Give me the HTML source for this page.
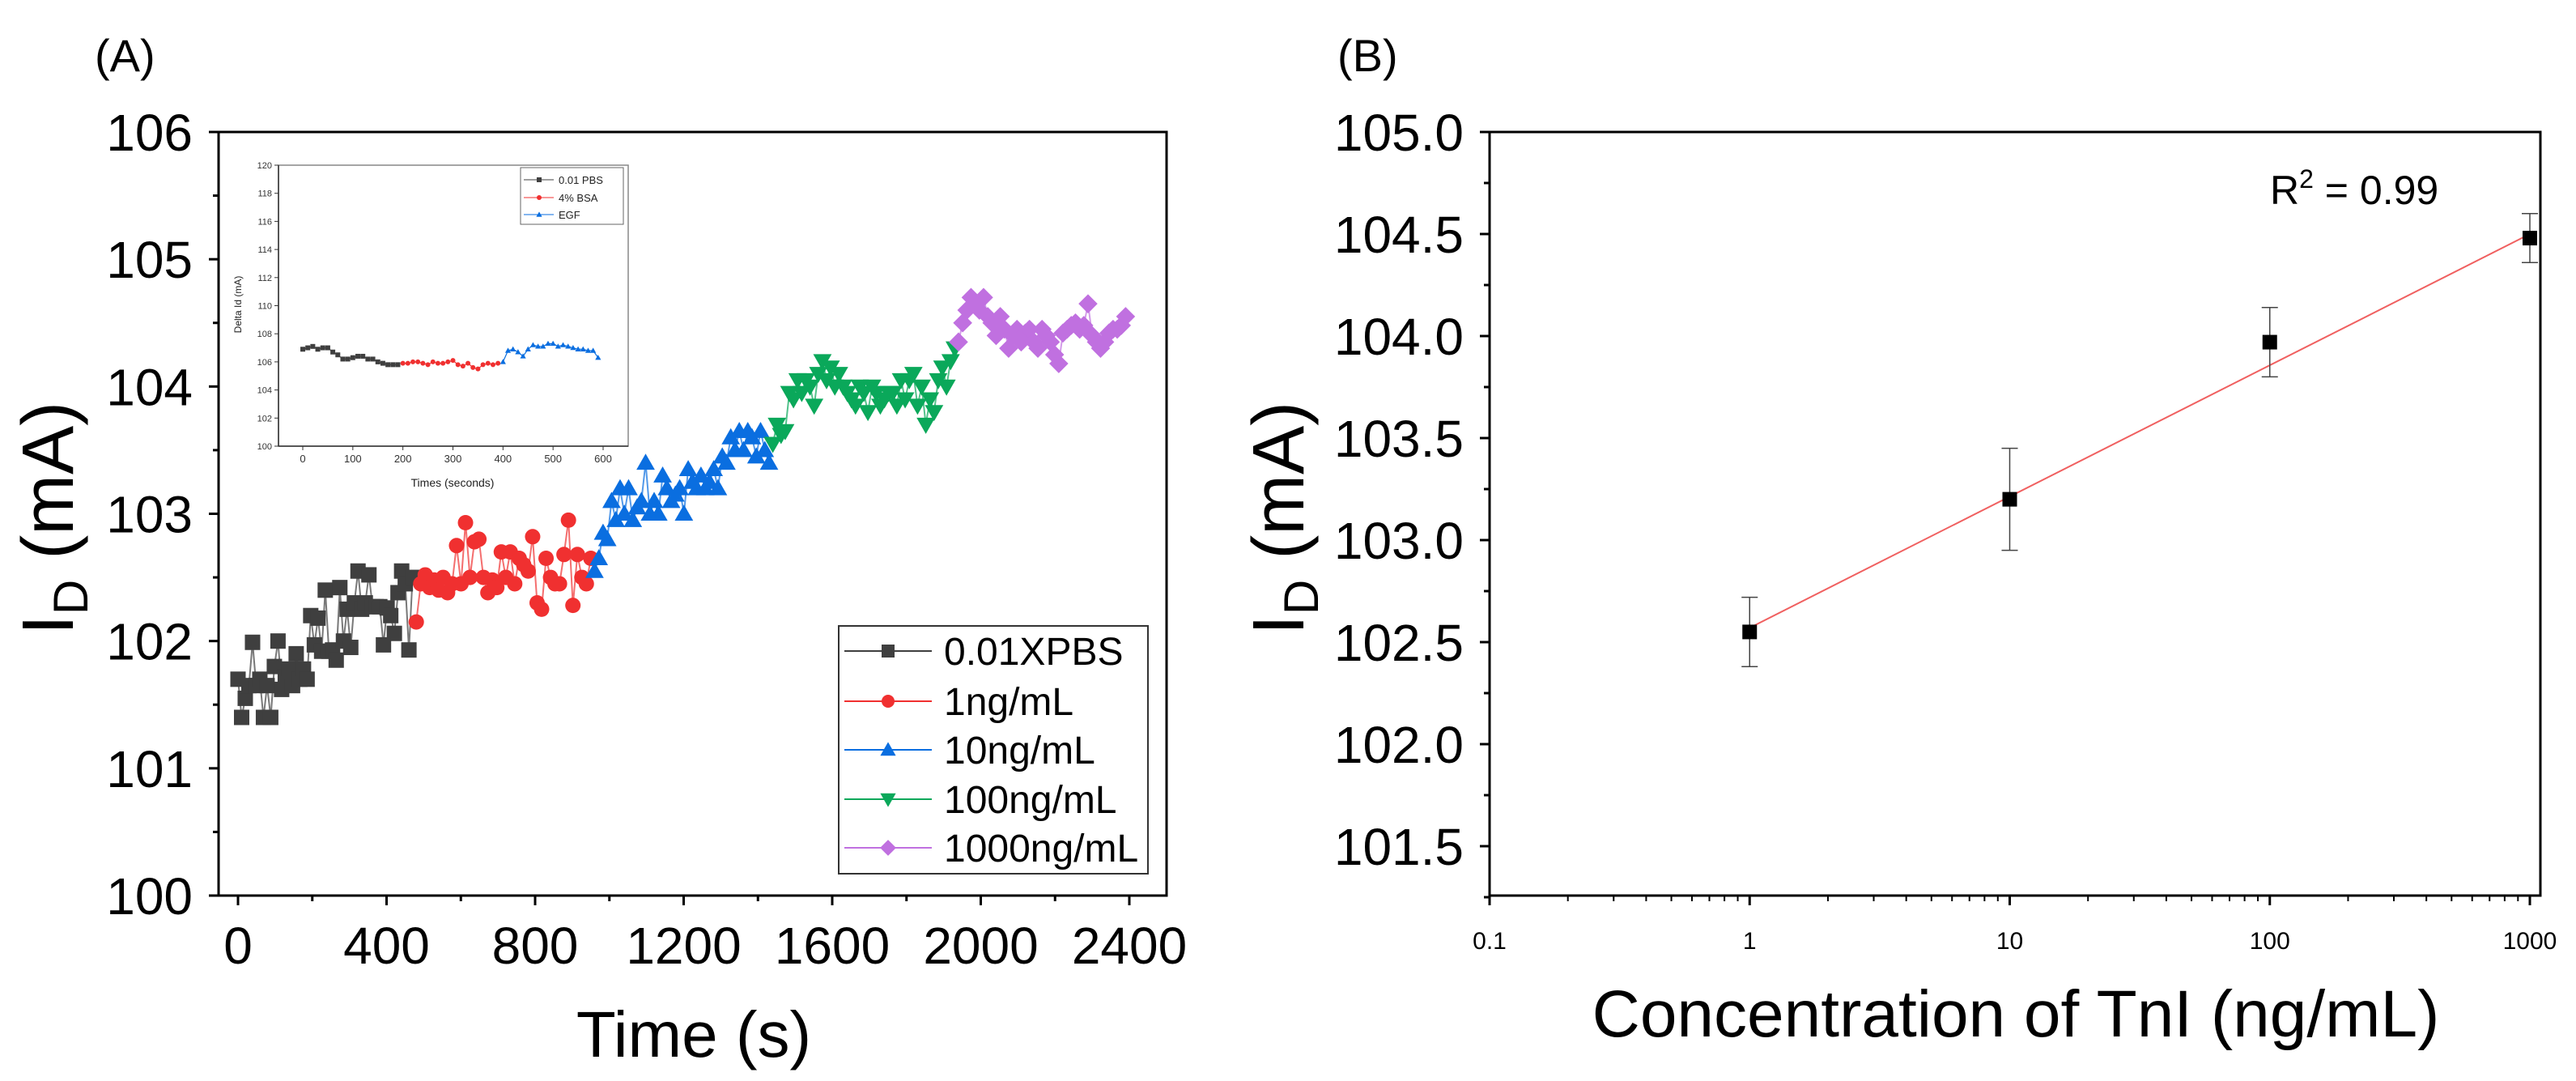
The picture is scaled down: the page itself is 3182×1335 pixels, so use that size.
<!DOCTYPE html>
<html><head><meta charset="utf-8">
<style>
html,body{margin:0;padding:0;background:#fff;}
svg{display:block;font-family:"Liberation Sans",Arial,sans-serif;}
</style></head>
<body>
<svg id="chart" width="3182" height="1335" viewBox="0 0 3182 1335" xmlns="http://www.w3.org/2000/svg">
<rect width="3182" height="1335" fill="#fff"/>
<g id="panelA"></g>
<g id="inset"></g>
<g id="panelB"></g>
</svg>
<script>
// ---------- Panel A data ----------
const seriesNames = ["0.01XPBS","1ng/mL","10ng/mL","100ng/mL","1000ng/mL"];
const seriesColors = ["#3f3f3f","#f03030","#0a6ee0","#0aa85a","#c070e0"];
const seriesStart = [0,480,960,1440,1940];
const seriesEnd = [470,950,1430,1930,2390];
const valsPBS = [101.7,101.4,101.55,101.65,101.99,101.65,101.7,101.4,101.65,101.4,101.8,102.0,101.62,101.72,101.78,101.65,101.9,101.7,101.78,101.7,102.2,101.97,102.18,101.92,102.4,101.92,101.93,101.85,102.42,102.0,102.25,101.95,102.3,102.55,102.25,102.3,102.52,102.27,102.27,102.27,101.97,102.26,102.2,102.06,102.38,102.55,102.45,101.93,102.5];
const vals1 = [102.15,102.45,102.52,102.42,102.48,102.4,102.5,102.38,102.45,102.75,102.45,102.93,102.5,102.78,102.8,102.5,102.38,102.48,102.42,102.7,102.5,102.7,102.45,102.65,102.6,102.55,102.82,102.3,102.25,102.65,102.5,102.45,102.45,102.68,102.95,102.28,102.68,102.5,102.45,102.65];
const vals10 = [102.55,102.65,102.85,102.8,103.1,102.95,103.2,103.0,103.2,102.95,103.05,103.1,103.4,103.0,103.1,103.0,103.3,103.2,103.1,103.15,103.2,103.0,103.35,103.25,103.2,103.3,103.2,103.25,103.35,103.2,103.45,103.4,103.6,103.5,103.65,103.5,103.65,103.6,103.45,103.65,103.5,103.4];
const vals100 = [103.55,103.7,103.62,103.65,103.95,103.9,104.05,103.95,104.05,104.0,103.85,104.1,104.2,104.05,104.15,104.0,104.1,104.0,103.95,103.9,103.85,104.0,103.95,103.8,104.0,103.95,103.85,103.9,103.95,103.95,103.85,104.05,103.9,104.05,104.1,103.85,104.0,103.7,103.9,103.8,104.05,104.15,104.0,104.2,104.3];
const vals1000 = [104.35,104.5,104.6,104.7,104.65,104.6,104.7,104.55,104.5,104.4,104.55,104.45,104.3,104.4,104.45,104.35,104.42,104.45,104.35,104.3,104.45,104.4,104.35,104.25,104.18,104.42,104.45,104.48,104.5,104.45,104.48,104.65,104.4,104.35,104.3,104.35,104.42,104.45,104.45,104.48,104.55];
const xTicksA = [0,400,800,1200,1600,2000,2400];
const yTicksA = [100,101,102,103,104,105,106];
// ---------- Inset data ----------
const insetNames = ["0.01 PBS","4% BSA","EGF"];
const insetColors = ["#3f3f3f","#f03030","#0a6ee0"];
const insetStart = [0,200,400];
const insetEnd = [190,390,590];
const insetPBS = [106.9,107.0,107.1,106.9,107.0,107.0,106.7,106.5,106.2,106.2,106.3,106.4,106.4,106.2,106.2,106.0,105.9,105.8,105.8,105.8];
const insetBSA = [105.9,105.9,106.0,106.0,105.9,105.8,106.0,105.9,105.9,106.0,106.1,105.8,105.7,105.9,105.6,105.5,105.8,105.9,105.8,105.9];
const insetEGF = [106.0,106.8,106.9,106.7,106.4,106.9,107.2,107.1,107.1,107.3,107.3,107.1,107.2,107.1,107.0,106.9,106.9,106.8,106.8,106.3];
const insetXTicks = [0,100,200,300,400,500,600];
const insetYTicks = [100,102,104,106,108,110,112,114,116,118,120];
// ---------- Panel B data ----------
const concB = [1,10,100,1000];
const meanB = [102.55,103.2,103.97,104.48];
const errB = [0.17,0.25,0.17,0.12];
const fitB = [102.57,104.5]; // fit at conc 1 and 1000
const xTicksB = [0.1,1,10,100,1000];
const yTicksB = [101.5,102.0,102.5,103.0,103.5,104.0,104.5,105.0];

const NS="http://www.w3.org/2000/svg";
function mk(parent,tag,attrs,text){const e=document.createElementNS(NS,tag);for(const k in attrs)e.setAttribute(k,attrs[k]);if(text!==undefined)e.textContent=text;parent.appendChild(e);return e;}

function marker(g,shape,x,y,s,color){
  let e;
  if(shape===0) e=mk(g,'rect',{x:x-s/2,y:y-s/2,width:s,height:s,fill:color});
  else if(shape===1) e=mk(g,'circle',{cx:x,cy:y,r:s/2,fill:color});
  else if(shape===2) e=mk(g,'polygon',{points:`${x},${y-s*0.6} ${x-s*0.6},${y+s*0.45} ${x+s*0.6},${y+s*0.45}`,fill:color});
  else if(shape===3) e=mk(g,'polygon',{points:`${x},${y+s*0.6} ${x-s*0.6},${y-s*0.45} ${x+s*0.6},${y-s*0.45}`,fill:color});
  else e=mk(g,'polygon',{points:`${x},${y-s*0.62} ${x+s*0.62},${y} ${x},${y+s*0.62} ${x-s*0.62},${y}`,fill:color});
  return e;
}

// ===== Panel A =====
(function(){
  const g=document.getElementById('panelA');
  const L=270,R=1441,T=163,B=1106;
  const x0=294,x1=1395;
  const xs=v=>x0+(v-0)/(2400-0)*(x1-x0);
  const ys=v=>B-(v-100)/(106-100)*(B-T);
  let t=mk(g,'text',{x:117,y:88,'font-size':56},'(A)');
  
  const ax=mk(g,'rect',{x:L,y:T,width:R-L,height:B-T,fill:'none',stroke:'#000','stroke-width':3});
  
  yTicksA.forEach((v,i)=>{
    const y=ys(v);
    mk(g,'line',{x1:L,x2:L-12,y1:y,y2:y,stroke:'#000','stroke-width':3});
    if(i<yTicksA.length-1) mk(g,'line',{x1:L,x2:L-7,y1:ys(v+0.5),y2:ys(v+0.5),stroke:'#000','stroke-width':3});
    const e=mk(g,'text',{x:238,y:y+23,'font-size':64,'text-anchor':'end'},String(v));
    
  });
  xTicksA.forEach((v,i)=>{
    const x=xs(v);
    mk(g,'line',{x1:x,x2:x,y1:B,y2:B+12,stroke:'#000','stroke-width':3});
    if(i<xTicksA.length-1) mk(g,'line',{x1:xs(v+200),x2:xs(v+200),y1:B,y2:B+7,stroke:'#000','stroke-width':3});
    const e=mk(g,'text',{x:x,y:1190,'font-size':64,'text-anchor':'middle'},String(v));
    
  });
  t=mk(g,'text',{x:857,y:1305,'font-size':80,'text-anchor':'middle'},'Time (s)');
  
  t=mk(g,'text',{x:0,y:0,'font-size':90,'text-anchor':'middle',transform:'translate(90,640) rotate(-90)'});
  
  mk(t,'tspan',{},'I');mk(t,'tspan',{'font-size':60,dy:18},'D');mk(t,'tspan',{dy:-18},' (mA)');
  const all=[valsPBS,vals1,vals10,vals100,vals1000];
  all.forEach((vals,si)=>{
    const sg=mk(g,'g',{});
    
    
    const n=vals.length;
    const px=vals.map((v,i)=>xs(seriesStart[si]+(seriesEnd[si]-seriesStart[si])*i/(n-1)));
    const py=vals.map(v=>ys(v));
    mk(sg,'polyline',{points:px.map((x,i)=>x+','+py[i]).join(' '),fill:'none',stroke:seriesColors[si],'stroke-width':2,opacity:0.7});
    px.forEach((x,i)=>{const m=marker(sg,si,x,py[i],19,seriesColors[si]);
      });
  });
  // legend
  const lg=mk(g,'g',{});
  
  mk(lg,'rect',{x:1036,y:773,width:382,height:306,fill:'#fff',stroke:'#333','stroke-width':2});
  const ly=[804,866,926,987,1047];
  seriesNames.forEach((nm,i)=>{
    const eg=mk(lg,'g',{});
    
    mk(eg,'line',{x1:1043,x2:1151,y1:ly[i],y2:ly[i],stroke:seriesColors[i],'stroke-width':2});
    marker(eg,i,1097,ly[i],16,seriesColors[i]);
    mk(eg,'text',{x:1166,y:ly[i]+17,'font-size':48},nm);
  });
})();

// ===== Inset =====
(function(){
  const g=document.getElementById('inset');
  const L=344,R=776,T=204,B=551;
  const xs=v=>374+v/600*(745-374);
  const ys=v=>B-(v-100)/20*(B-T);
  mk(g,'rect',{x:L,y:T,width:R-L,height:B-T,fill:'#fff',stroke:'#888','stroke-width':1.5});
  mk(g,'line',{x1:L,x2:L,y1:T,y2:B,stroke:'#333','stroke-width':1.5});
  mk(g,'line',{x1:L,x2:R,y1:B,y2:B,stroke:'#333','stroke-width':1.5});
  insetYTicks.forEach(v=>{const y=ys(v);mk(g,'line',{x1:L,x2:L-5,y1:y,y2:y,stroke:'#333'});
    const e=mk(g,'text',{x:L-8,y:y+4,'font-size':11,'text-anchor':'end',fill:'#333'},String(v));
    });
  insetXTicks.forEach(v=>{const x=xs(v);mk(g,'line',{x1:x,x2:x,y1:B,y2:B+5,stroke:'#333'});
    const e=mk(g,'text',{x:x,y:B+20,'font-size':13,'text-anchor':'middle',fill:'#333'},String(v));
    });
  let t=mk(g,'text',{x:559,y:601,'font-size':14,'text-anchor':'middle',fill:'#222'},'Times (seconds)');
  
  t=mk(g,'text',{x:0,y:0,'font-size':12,'text-anchor':'middle',fill:'#222',transform:'translate(298,376) rotate(-90)'},'Delta Id (mA)');
  
  [insetPBS,insetBSA,insetEGF].forEach((vals,si)=>{
    const sg=mk(g,'g',{});
    
    const n=vals.length;
    const px=vals.map((v,i)=>xs(insetStart[si]+(insetEnd[si]-insetStart[si])*i/(n-1)));
    const py=vals.map(v=>ys(v));
    mk(sg,'polyline',{points:px.map((x,i)=>x+','+py[i]).join(' '),fill:'none',stroke:insetColors[si],'stroke-width':1.2});
    px.forEach((x,i)=>marker(sg,si,x,py[i],6,insetColors[si]));
  });
  const lg=mk(g,'g',{});
  
  mk(lg,'rect',{x:643,y:207,width:127,height:70,fill:'#fff',stroke:'#666','stroke-width':1});
  [222,244,265].forEach((y,i)=>{
    mk(lg,'line',{x1:647,x2:684,y1:y,y2:y,stroke:insetColors[i],'stroke-width':1});
    marker(lg,i,666,y,6,insetColors[i]);
    mk(lg,'text',{x:690,y:y+5,'font-size':13,fill:'#222'},insetNames[i]);
  });
})();

// ===== Panel B =====
(function(){
  const g=document.getElementById('panelB');
  const L=1840,R=3138,T=163,B=1106;
  const xs=v=>1840+(Math.log10(v)+1)*((3125-1840)/4);
  const ymin=101.258,ymax=105;
  const ys=v=>B-(v-ymin)/(ymax-ymin)*(B-T);
  let t=mk(g,'text',{x:1652,y:88,'font-size':56},'(B)');
  
  const ax=mk(g,'rect',{x:L,y:T,width:R-L,height:B-T,fill:'none',stroke:'#000','stroke-width':3});
  
  yTicksB.forEach(v=>{
    const y=ys(v);
    mk(g,'line',{x1:L,x2:L-12,y1:y,y2:y,stroke:'#000','stroke-width':3});
    mk(g,'line',{x1:L,x2:L-7,y1:ys(v-0.25),y2:ys(v-0.25),stroke:'#000','stroke-width':3});
    const e=mk(g,'text',{x:1808,y:y+23,'font-size':64,'text-anchor':'end'},v.toFixed(1));
    
  });
  xTicksB.forEach((v,i)=>{
    const x=xs(v);
    mk(g,'line',{x1:x,x2:x,y1:B,y2:B+12,stroke:'#000','stroke-width':3});
    if(i<xTicksB.length-1) for(let k=2;k<10;k++){const xm=xs(v*k);mk(g,'line',{x1:xm,x2:xm,y1:B,y2:B+7,stroke:'#000','stroke-width':2});}
    const e=mk(g,'text',{x:x,y:1172,'font-size':30,'text-anchor':'middle'},String(v));
    
  });
  t=mk(g,'text',{x:2490,y:1280,'font-size':82,'text-anchor':'middle'},'Concentration of TnI (ng/mL)');
  
  t=mk(g,'text',{x:0,y:0,'font-size':90,'text-anchor':'middle',transform:'translate(1610,640) rotate(-90)'});
  
  mk(t,'tspan',{},'I');mk(t,'tspan',{'font-size':60,dy:18},'D');mk(t,'tspan',{dy:-18},' (mA)');
  const fit=mk(g,'line',{x1:xs(concB[0]),y1:ys(fitB[0]),x2:xs(concB[concB.length-1]),y2:ys(fitB[1]),stroke:'#f06060','stroke-width':2});
  
  concB.forEach((c,i)=>{
    const x=xs(c),y=ys(meanB[i]);
    const eg=mk(g,'g',{});
    
    const yt=ys(meanB[i]+errB[i]),yb=ys(meanB[i]-errB[i]);
    mk(eg,'line',{x1:x,x2:x,y1:yt,y2:yb,stroke:'#444','stroke-width':1.5});
    mk(eg,'line',{x1:x-10,x2:x+10,y1:yt,y2:yt,stroke:'#444','stroke-width':1.5});
    mk(eg,'line',{x1:x-10,x2:x+10,y1:yb,y2:yb,stroke:'#444','stroke-width':1.5});
    mk(eg,'rect',{x:x-9,y:y-9,width:18,height:18,fill:'#000'});
  });
  t=mk(g,'text',{x:2804,y:252,'font-size':50});
  
  mk(t,'tspan',{},'R');mk(t,'tspan',{'font-size':32,dy:-20},'2');mk(t,'tspan',{dy:20},' = 0.99');
})();
</script>
</body></html>
